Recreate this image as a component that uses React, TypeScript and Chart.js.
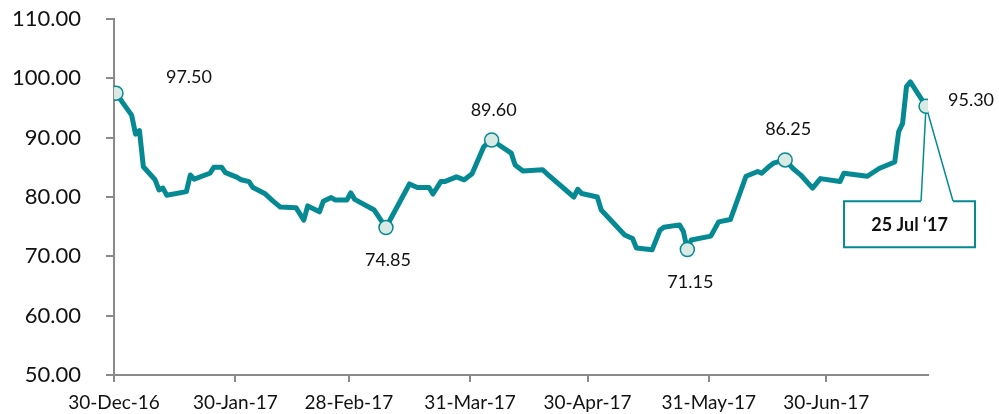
import React, { useEffect, useRef } from "react";
import { Chart, registerables } from "chart.js";

Chart.register(...registerables);

// Day offsets from 30-Dec-16 (calendar days) and price values
const days = [0, 4, 5, 6, 7, 10, 11, 12, 13, 18, 19, 20, 24, 25, 27, 28, 31, 32, 34, 35, 38, 40, 42, 46, 48, 49, 52, 53, 55, 56, 59, 60, 61, 66, 69, 75, 77, 80, 81, 83, 84, 87, 89, 91, 94, 96, 101, 102, 104, 109, 110, 117, 118, 119, 123, 124, 130, 132, 133, 137, 139, 140, 144, 145, 146, 147, 152, 154, 157, 161, 164, 165, 167, 168, 171, 173, 175, 178, 180, 185, 186, 192, 195, 199, 200, 201, 202, 203, 207];
const prices = [97.5, 93.8, 90.6, 91.2, 85.1, 82.9, 81.2, 81.5, 80.3, 80.9, 83.7, 83.0, 84.0, 85.0, 85.0, 84.1, 83.3, 82.9, 82.6, 81.6, 80.6, 79.4, 78.3, 78.2, 76.1, 78.5, 77.5, 79.3, 79.9, 79.5, 79.5, 80.7, 79.6, 77.8, 74.85, 82.2, 81.6, 81.6, 80.5, 82.6, 82.6, 83.4, 82.9, 83.9, 88.5, 89.6, 87.4, 85.4, 84.4, 84.6, 84.0, 80.0, 81.3, 80.6, 80.0, 77.8, 73.6, 73.0, 71.4, 71.1, 74.4, 74.9, 75.3, 74.2, 71.15, 72.75, 73.4, 75.8, 76.2, 83.5, 84.3, 84.0, 85.2, 85.7, 86.25, 84.8, 83.7, 81.5, 83.1, 82.6, 84.0, 83.5, 84.8, 85.9, 91.0, 92.4, 98.6, 99.4, 95.3];

const highlightDays = [0, 69, 96, 146, 171, 207];
const tickDays = [0, 31, 60, 91, 121, 152, 182];
const tickLabels = ["30-Dec-16", "30-Jan-17", "28-Feb-17", "31-Mar-17", "30-Apr-17", "31-May-17", "30-Jun-17"];
const calloutText = "25 Jul \u201817";

const TEAL = "#058A93";
const FONT = "Lato, 'Open Sans', sans-serif";

// label placement relative to each highlighted marker
const labelPlacement: Record<number, [number, number]> = {
  0: [73, -16],
  69: [2, 33],
  96: [2, -30],
  146: [3, 33],
  171: [3, -31],
  207: [45, -6],
};

const annotPlugin = {
  id: "annot",
  beforeDatasetsDraw(chart: any) {
    const meta = chart.getDatasetMeta(0);
    const idx = days.indexOf(207);
    const el = meta.data[idx];
    if (!el) return;
    const ctx = chart.ctx;
    const px = el.x;
    const py = el.y;
    const left = px - 82;
    const top = py + 95;
    const w = 131;
    const h = 46;
    ctx.save();
    // pointer
    ctx.beginPath();
    ctx.moveTo(px - 5, top);
    ctx.lineTo(px, py);
    ctx.lineTo(px + 27, top);
    ctx.strokeStyle = TEAL;
    ctx.lineWidth = 1.5;
    ctx.stroke();
    // box
    ctx.beginPath();
    ctx.moveTo(px - 5, top);
    ctx.lineTo(left, top);
    ctx.lineTo(left, top + h);
    ctx.lineTo(left + w, top + h);
    ctx.lineTo(left + w, top);
    ctx.lineTo(px + 27, top);
    ctx.fillStyle = "#ffffff";
    ctx.fill();
    ctx.lineWidth = 2;
    ctx.stroke();
    ctx.fillStyle = "#111";
    ctx.font = "bold 18px " + FONT;
    ctx.textAlign = "center";
    ctx.textBaseline = "middle";
    ctx.fillText(calloutText, left + w / 2, top + h / 2 + 1);
    ctx.restore();
  },
  afterDatasetsDraw(chart: any) {
    const meta = chart.getDatasetMeta(0);
    const ctx = chart.ctx;
    ctx.save();
    ctx.fillStyle = "#111";
    ctx.font = "18px " + FONT;
    ctx.textAlign = "center";
    ctx.textBaseline = "middle";
    highlightDays.forEach((d) => {
      const i = days.indexOf(d);
      const el = meta.data[i];
      if (!el) return;
      const [dx, dy] = labelPlacement[d] || [0, -25];
      ctx.fillText(prices[i].toFixed(2), el.x + dx, el.y + dy);
    });
    ctx.restore();
  },
};

export default function App() {
  const ref = useRef<HTMLCanvasElement>(null);
  useEffect(() => {
    if (!ref.current) return;
    const chart = new Chart(ref.current, {
      type: "line",
      data: {
        datasets: [
          {
            data: days.map((d, i) => ({ x: d + 0.5, y: prices[i] })),
            borderColor: TEAL,
            borderWidth: 5,
            tension: 0,
            borderJoinStyle: "round",
            borderCapStyle: "round",
            pointRadius: (c: any) => (highlightDays.includes(days[c.dataIndex]) ? 7 : 0),
            pointHoverRadius: 7,
            pointBackgroundColor: "#D9E9E4",
            pointBorderColor: TEAL,
            pointBorderWidth: 1.5,
          },
        ],
      },
      options: {
        animation: false,
        responsive: false,
        events: [],
        layout: { autoPadding: false, padding: { top: 19, right: 71, left: 0, bottom: 0 } },
        plugins: { legend: { display: false }, tooltip: { enabled: false } },
        scales: {
          x: {
            type: "linear",
            min: 0,
            max: 208,
            afterBuildTicks: (s: any) => {
              s.ticks = tickDays.map((v) => ({ value: v }));
            },
            afterFit: (s: any) => {
              s.height = 39;
              s.paddingLeft = 0;
              s.paddingRight = 0;
            },
            ticks: {
              autoSkip: false,
              maxRotation: 0,
              padding: 9,
              color: "#111",
              font: { family: FONT, size: 19 },
              callback: (v: any) => {
                const k = tickDays.indexOf(Number(v));
                return k >= 0 ? tickLabels[k] : "";
              },
            },
            grid: { drawOnChartArea: false, drawTicks: true, tickLength: 7, color: "#8a8a8a", lineWidth: 2 },
            border: { display: true, color: "#8a8a8a", width: 2 },
          },
          y: {
            min: 50,
            max: 110,
            afterFit: (s: any) => {
              s.width = 114;
              s.paddingTop = 0;
              s.paddingBottom = 0;
            },
            ticks: {
              stepSize: 10,
              padding: 25,
              color: "#111",
              font: { family: FONT, size: 22 },
              callback: (v: any) => Number(v).toFixed(2),
            },
            grid: { drawOnChartArea: false, drawTicks: true, tickLength: 8, color: "#8a8a8a", lineWidth: 2 },
            border: { display: true, color: "#8a8a8a", width: 2 },
          },
        },
      },
      plugins: [annotPlugin],
    } as any);
    return () => chart.destroy();
  }, []);
  return (
    <div style={{ position: "fixed", left: 0, top: 0, width: 999, height: 414, background: "#fff" }}>
      <canvas ref={ref} width={999} height={414} style={{ display: "block" }} />
    </div>
  );
}
